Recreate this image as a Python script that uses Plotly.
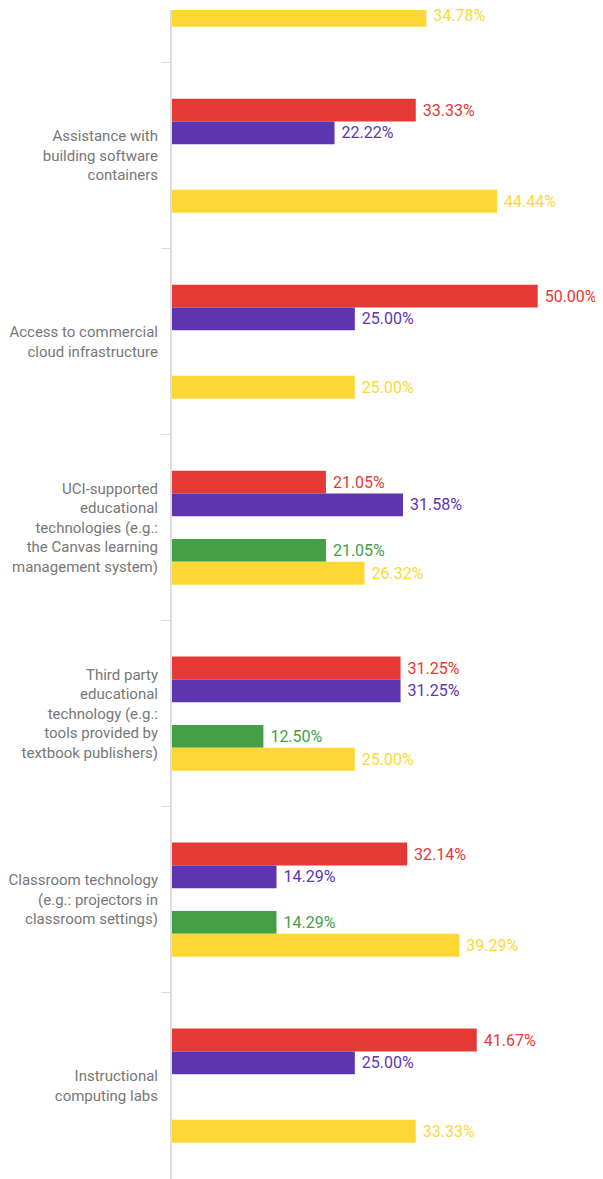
import plotly.graph_objects as go

# categories, top to bottom (first one is only partly visible in the view)
categories = [
    "Earlier item",
    "Assistance with<br>building software<br>containers",
    "Access to commercial<br>cloud infrastructure",
    "UCI-supported<br>educational<br>technologies (e.g.:<br>the Canvas learning<br>management system)",
    "Third party<br>educational<br>technology (e.g.:<br>tools provided by<br>textbook publishers)",
    "Classroom technology<br>(e.g.: projectors in<br>classroom settings)",
    "Instructional<br>computing labs",
]

red_vals = [None, 33.33, 50.00, 21.05, 31.25, 32.14, 41.67]
purple_vals = [None, 22.22, 25.00, 31.58, 31.25, 14.29, 25.00]
blank_vals = [None, None, None, None, None, None, None]
green_vals = [None, None, None, 21.05, 12.50, 14.29, None]
yellow_vals = [34.78, 44.44, 25.00, 26.32, 25.00, 39.29, 33.33]

series = [
    ("Group 1", red_vals, "#E53935"),
    ("Group 2", purple_vals, "#5E35B1"),
    ("Group 3", blank_vals, "#9E9E9E"),
    ("Group 4", green_vals, "#43A047"),
    ("Group 5", yellow_vals, "#FDD835"),
]

fig = go.Figure()
for name, vals, col in series:
    fig.add_trace(go.Bar(
        y=categories, x=vals, name=name, orientation="h",
        marker=dict(color=col, line=dict(width=0)),
        text=[None if v is None else "\u00a0%.2f%%" % v for v in vals],
        textposition="outside",
        textfont=dict(color=col, size=16, family="Roboto"),
        cliponaxis=False,
        hoverinfo="skip",
    ))

# page body has an 8px margin, so the figure is 8px smaller than the window
fig.update_layout(
    width=595, height=1171,
    margin=dict(l=164, r=0, t=2, b=0, autoexpand=False),
    barmode="group",
    bargap=0.387,
    bargroupgap=0,
    showlegend=False,
    plot_bgcolor="white",
    paper_bgcolor="white",
    font=dict(family="Roboto", size=15, color="#777777"),
)
fig.update_xaxes(range=[0, 58.93], showgrid=False, zeroline=False,
                 showticklabels=False, ticks="", fixedrange=True,
                 automargin=False)
fig.update_yaxes(
    type="category",
    range=[6.502, 0.217],
    automargin=False,
    showgrid=False, zeroline=False,
    showline=True, linecolor="#DDDDDD", linewidth=2,
    ticks="outside", tickson="boundaries", ticklen=9, tickcolor="#DDDDDD",
    tickwidth=1,
    tickfont=dict(size=15, color="#777777", family="Roboto"),
    ticklabelstandoff=9,
)

fig.write_html("out.html")
